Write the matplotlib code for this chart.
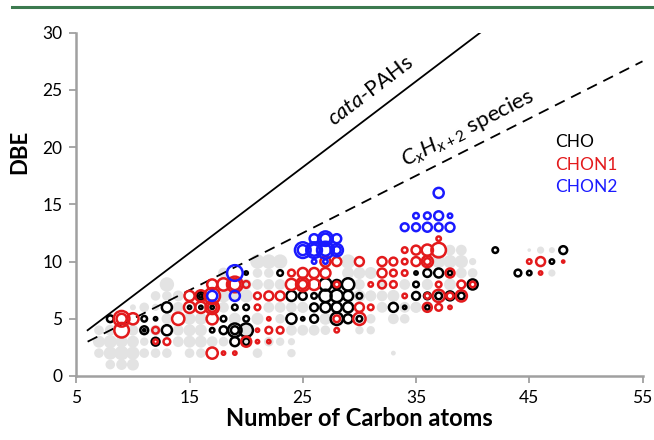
import matplotlib
matplotlib.use("Agg")
import matplotlib.pyplot as plt
import numpy as np
from matplotlib.lines import Line2D

plt.rcParams['font.family'] = ['Lato', 'DejaVu Sans']
plt.rcParams['mathtext.fontset'] = 'custom'
plt.rcParams['mathtext.rm'] = 'Lato'
plt.rcParams['mathtext.it'] = 'Lato:italic'
plt.rcParams['mathtext.bf'] = 'Lato:bold'

# ---------------- data ----------------
# background (grey) species: carbon number, DBE, bubble size
gray_c = [7, 8, 10, 7, 8, 9, 10, 11, 7, 8, 9, 10, 11, 10, 10, 13, 12, 14, 15, 16, 14, 15, 16,
          14, 15, 16, 17, 18, 15, 16, 18, 21, 22, 23, 21, 22, 23, 19, 21, 23, 16, 15, 24, 25, 26,
          20, 22, 18, 19, 20, 21, 22, 23, 24, 25, 29, 30, 31, 29, 30, 31, 25, 24, 27, 30, 31, 32,
          32, 31, 33, 34, 37, 38, 39, 38, 39, 40, 39, 40, 34, 36, 38, 33, 35, 45, 46, 47, 47, 33,
          12, 13, 11, 12, 13, 9, 8, 20, 21, 22, 23, 24, 19, 20, 21, 14, 13, 12, 18, 27, 26, 27,
          32, 33, 35, 36, 34, 31, 30]
gray_dbe = [4, 4, 4, 3, 3, 3, 3, 3, 2, 2, 2, 2, 2, 1, 6, 8, 6, 6, 5, 5, 4, 4, 4,
            3, 3, 3, 3, 3, 2, 2, 6, 10, 10, 10, 9, 9, 8, 5, 5, 5, 5, 4, 4, 4, 4,
            7, 8, 7, 7, 8, 8, 6, 6, 6, 6, 10, 9, 9, 9, 8, 7, 6, 3, 5, 7, 7, 7,
            6, 5, 7, 8, 10, 10, 10, 11, 11, 10, 9, 9, 6, 8, 8, 5, 6, 11, 11, 11, 9, 2,
            4, 5, 6, 2, 2, 1, 1, 3, 2, 3, 3, 2, 5, 4, 5, 7, 7, 7, 9, 4, 4, 5,
            8, 7, 6, 8, 5, 4, 4]
gray_size = [8, 9, 9, 10, 11, 10, 10, 7, 8, 11, 12, 11, 8, 10, 5, 12, 6, 9, 10, 10, 9, 10, 10,
             9, 10, 10, 9, 8, 8, 8, 9, 12, 12, 12, 8, 8, 9, 10, 10, 8, 9, 9, 9, 9, 9,
             11, 9, 11, 10, 9, 9, 9, 9, 9, 9, 12, 10, 10, 10, 9, 9, 9, 6, 10, 10, 9, 9,
             9, 8, 10, 9, 11, 11, 11, 9, 9, 6, 9, 8, 9, 9, 10, 9, 9, 3, 6, 5, 6, 4,
             9, 9, 8, 8, 8, 9, 8, 9, 8, 8, 7, 7, 9, 9, 9, 9, 8, 8, 9, 8, 8, 8,
             9, 9, 9, 9, 8, 7, 7]

# CHO species (black)
cho_c = [8, 11, 12, 13, 11, 11, 13, 12, 16, 15, 16, 17, 17, 20, 23, 24, 19, 20, 18, 20, 24, 25,
         18, 19, 19, 20, 19, 20, 25, 26, 27, 28, 29, 30, 27, 28, 29, 26, 27, 28, 29, 33, 34, 26,
         28, 29, 30, 35, 36, 37, 38, 35, 40, 35, 36, 37, 38, 39, 36, 42, 48, 47, 44, 45, 16]
cho_dbe = [5, 5, 5, 6, 4, 4, 4, 3, 7, 6, 6, 6, 4, 9, 9, 7, 6, 6, 5, 5, 5, 5,
           4, 4, 4, 4, 3, 3, 7, 7, 7, 7, 7, 7, 8, 8, 8, 6, 6, 6, 6, 6, 6, 5,
           5, 5, 5, 9, 9, 9, 9, 8, 8, 7, 7, 7, 7, 7, 6, 11, 11, 10, 9, 9, 7]
cho_size = [6, 5, 3, 9, 7, 2, 9, 7, 7, 3, 3, 3, 4, 3, 5, 9, 5, 5, 5, 5, 9, 3,
            7, 12, 7, 12, 8, 6, 7, 5, 11, 11, 9, 5, 11, 8, 11, 7, 9, 9, 9, 8, 3, 7,
            11, 8, 5, 3, 7, 8, 4, 5, 9, 7, 6, 6, 8, 6, 4, 5, 7, 4, 6, 4, 3]

# CHON1 species (red)
chon1_c = [9, 9, 10, 9, 12, 13, 12, 14, 15, 16, 17, 15, 16, 17, 17, 17, 17, 18, 19, 19, 20, 17,
           18, 19, 21, 22, 23, 21, 22, 21, 22, 23, 20, 21, 22, 24, 25, 26, 27, 24, 25, 25, 26,
           28, 27, 28, 30, 32, 33, 34, 35, 36, 36, 32, 33, 34, 38, 31, 32, 33, 37, 39, 40, 34,
           36, 37, 38, 39, 30, 31, 36, 37, 38, 30, 28, 28, 34, 35, 36, 37, 37, 45, 46, 48, 46]
chon1_dbe = [5, 5, 5, 4, 4, 3, 3, 5, 7, 7, 7, 6, 6, 6, 6, 5, 8, 8, 8, 8, 8, 2,
             2, 2, 7, 7, 7, 6, 5, 4, 4, 4, 3, 3, 3, 9, 9, 9, 9, 8, 8, 8, 8,
             8, 10, 10, 10, 10, 10, 10, 10, 10, 10, 9, 9, 9, 9, 8, 8, 8, 8, 8, 8, 7,
             7, 7, 7, 7, 6, 6, 6, 6, 6, 5, 5, 4, 11, 11, 11, 11, 12, 10, 10, 10, 9]
chon1_size = [14, 9, 10, 13, 6, 6, 4, 11, 9, 10, 14, 10, 10, 12, 8, 10, 9, 11, 14, 10, 6, 10,
              3, 3, 6, 8, 8, 5, 3, 3, 6, 6, 9, 3, 3, 6, 9, 9, 9, 10, 12, 8, 10,
              5, 9, 8, 8, 8, 7, 5, 8, 10, 6, 8, 6, 5, 8, 4, 7, 6, 5, 7, 5, 4,
              5, 11, 6, 10, 8, 5, 8, 6, 3, 11, 6, 4, 5, 8, 10, 13, 4, 4, 8, 2, 3]

# CHON2 species (blue)
chon2_c = [17, 19, 19, 25, 25, 26, 26, 27, 27, 28, 28, 26, 27, 27, 28, 26, 27,
           37, 35, 36, 37, 38, 34, 35, 36, 37, 38]
chon2_dbe = [7, 9, 7, 11, 11, 11, 11, 11, 11, 11, 11, 12, 12, 12, 12, 10, 10,
             16, 14, 14, 14, 14, 13, 13, 13, 13, 13]
chon2_size = [9, 14, 9, 14, 9, 14, 10, 15, 10, 11, 7, 8, 13, 9, 8, 4, 4,
              9, 5, 6, 8, 4, 7, 7, 8, 7, 8]

legend_labels = ['CHO', 'CHON1', 'CHON2']
legend_colors = ['black', '#e31a1c', '#1a1aff']

x_ticks = [5, 15, 25, 35, 45, 55]
y_ticks = [0, 5, 10, 15, 20, 25, 30]

# ---------------- figure ----------------
W, H, DPI = 654, 440, 100
fig = plt.figure(figsize=(W / DPI, H / DPI), dpi=DPI)
ax = fig.add_axes([76.3 / W, 1 - 376 / H, 566.2 / W, 343.3 / H])


def pts(d, k=1.0):
    return (np.asarray(d, float) * k * 72 / DPI) ** 2


ax.scatter(gray_c, gray_dbe, s=pts(gray_size, 1.2), facecolor='#e3e3e3', edgecolor='none',
           zorder=1)
for cs, ds, ss, col in [(cho_c, cho_dbe, cho_size, 'black'),
                        (chon1_c, chon1_dbe, chon1_size, '#e31a1c'),
                        (chon2_c, chon2_dbe, chon2_size, '#1a1aff')]:
    ax.scatter(cs, ds, s=pts(ss, 1.12), facecolor='none', edgecolor=col, linewidths=1.8,
               zorder=3)

# reference lines
xs = np.array([6, 40.67])
ax.plot(xs, 0.75 * xs - 0.5, color='black', lw=1.3, zorder=2)
xd = np.array([6, 55])
ax.plot(xd, xd / 2, color='black', lw=1.3, ls=(0, (6, 4)), zorder=2)

ax.text(31.0, 24.9, r'$cata$-PAHs', rotation=37.2, ha='center', va='center',
        fontsize=15.5, rotation_mode='anchor')
ax.text(39.6, 21.7, r'$C_xH_{x+2}$ species', rotation=27, ha='center', va='center',
        fontsize=16, rotation_mode='anchor')

for i, (lab, col) in enumerate(zip(legend_labels, legend_colors)):
    fig.text(555 / W, 1 - (142 + 22.5 * i) / H, lab, color=col, fontsize=12.5,
             ha='left', va='center')

ax.set_xlim(5, 55)
ax.set_ylim(0, 30)
ax.set_xticks(x_ticks)
ax.set_yticks(y_ticks)
ax.tick_params(direction='out', length=5, width=1.3, color='#a0a0a0', labelsize=12.5,
               pad=5)
for side in ['top', 'right']:
    ax.spines[side].set_visible(False)
for side in ['left', 'bottom']:
    ax.spines[side].set_color('#a0a0a0')
    ax.spines[side].set_linewidth(1.8)
ax.set_xlabel('Number of Carbon atoms', fontsize=17, fontweight='bold', labelpad=1)
fig.text(20 / W, 1 - 152 / H, 'DBE', fontsize=16, fontweight='bold', rotation=90,
         ha='center', va='center')

# header rule
fig.add_artist(Line2D([12 / W, 1], [1 - 7 / H, 1 - 7 / H], color='#3c7a4f', lw=2.2))

fig.savefig('out.png', dpi=DPI)
